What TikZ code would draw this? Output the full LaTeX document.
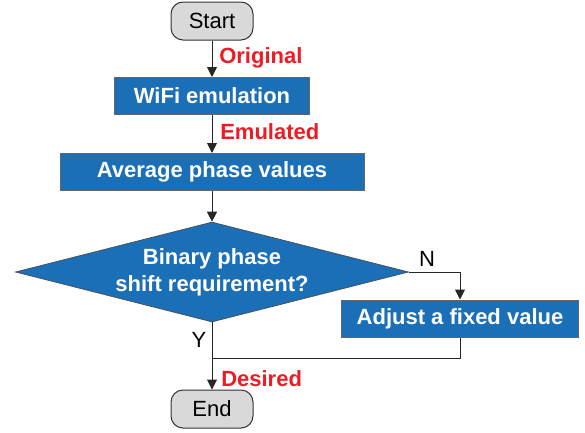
\documentclass[tikz,border=0pt]{standalone}
\usepackage{fontspec}
\setmainfont{Liberation Sans}
\usetikzlibrary{shapes.geometric,arrows.meta}
\definecolor{boxblue}{RGB}{27,111,183}
\definecolor{termgray}{RGB}{217,217,217}
\definecolor{labred}{RGB}{237,28,36}
\begin{document}
\begin{tikzpicture}[x=0.75pt,y=-0.75pt,
  font=\fontsize{16.5}{19}\selectfont,
  term/.style={draw=black!80,fill=termgray,rounded corners=9pt,minimum width=61.5pt,minimum height=28.5pt,inner sep=0pt,line width=0.75pt},
  proc/.style={draw=black!60,fill=boxblue,text=white,font=\fontsize{16.5}{19}\selectfont\bfseries,minimum height=28pt,inner sep=0pt,line width=0.5pt},
  dec/.style={diamond,aspect=3.93,draw=black!70,fill=boxblue,text=white,font=\fontsize{16.5}{20.5}\selectfont\bfseries,align=center,inner sep=0pt,minimum width=295pt,minimum height=75pt,line width=0.5pt},
  arr/.style={-{Triangle[width=7.5pt,length=7.5pt]},line width=0.75pt,black!85},
  ln/.style={line width=0.75pt,black!85},
  rlab/.style={text=labred,font=\fontsize{16.5}{19}\selectfont\bfseries,anchor=base west,inner sep=0pt},
  blab/.style={inner sep=0pt,anchor=base}]
\useasboundingbox (0,0) rectangle (585,432);
\node[term] (start) at (212,21) {Start};
\node[proc,minimum width=146pt] (wifi) at (212,96) {WiFi emulation};
\node[proc,minimum width=228pt] (avg) at (212,172) {Average phase values};
\node[dec] (dia) at (212,272) {Binary phase\\shift requirement?};
\node[proc,minimum width=178pt] (adj) at (460,318.5) {Adjust a fixed value};
\node[term] (end) at (212,409) {End};
\coordinate (join) at (212,358);
\draw[arr] (start) -- (wifi);
\draw[arr] (wifi) -- (avg);
\draw[arr] (avg) -- (dia);
\draw[arr] (dia.east) -| (adj.north);
\draw[ln] (adj.south) |- (join);
\draw[arr] (dia.south) -- (end.north);
\node[rlab] (lorig) at (219,63.5) {Original};
\node[rlab] (lemu) at (220,139.5) {Emulated};
\node[rlab] (ldes) at (221,386.5) {Desired};
\node[blab] (ln) at (427,266) {N};
\node[blab] (ly) at (199,347.5) {Y};
\end{tikzpicture}
\end{document}
